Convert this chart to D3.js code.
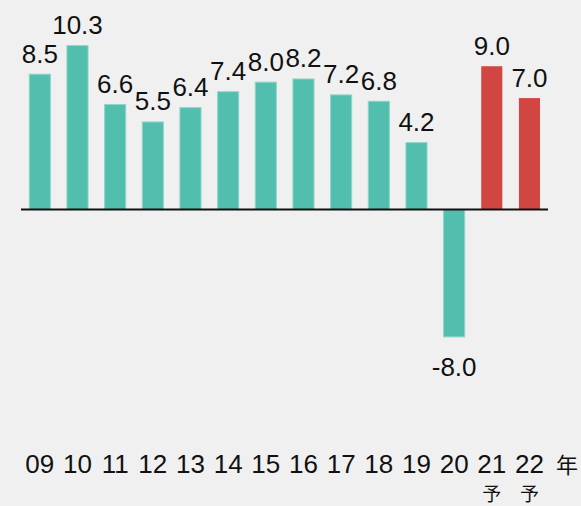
<!DOCTYPE html>
<html><head><meta charset="utf-8">
<script src="https://cdn.jsdelivr.net/npm/d3@7"></script>
<style>
html,body{margin:0;padding:0;background:#f0f0f0;}
svg{display:block;}
text{font-family:"Liberation Sans",Arial,sans-serif;fill:#111;}
</style></head>
<body>
<script>
const categories = ["09","10","11","12","13","14","15","16","17","18","19","20","21","22"];
const forecastMark = ["","","","","","","","","","","","","予","予"];
const values = [8.5,10.3,6.6,5.5,6.4,7.4,8.0,8.2,7.2,6.8,4.2,-8.0,9.0,7.0];
const isForecast = [false,false,false,false,false,false,false,false,false,false,false,false,true,true];
const unitLabel = "年";

const W = 581, H = 506;
const svg = d3.select("body").append("svg").attr("width", W).attr("height", H);

const x = d3.scaleBand().domain(categories).range([21, 548.3]).paddingInner(0.44).paddingOuter(0.22);
const y = d3.scaleLinear().domain([-10, 12]).range([368.7, 18.5]);

const teal = "#52bfae", red = "#d14542";

svg.append("g").selectAll("rect").data(values).join("rect")
  .attr("x", (d,i) => x(categories[i]))
  .attr("width", x.bandwidth())
  .attr("y", d => y(Math.max(0, d)))
  .attr("height", d => Math.abs(y(d) - y(0)))
  .attr("fill", (d,i) => isForecast[i] ? red : teal)
  .attr("stroke", (d,i) => isForecast[i] ? "none" : "#8dd5c9")
  .attr("stroke-width", 1);

svg.append("line")
  .attr("x1", 21).attr("x2", 548)
  .attr("y1", y(0)).attr("y2", y(0))
  .attr("stroke", "#111").attr("stroke-width", 2);

svg.append("g").selectAll("text").data(values).join("text")
  .attr("x", (d,i) => x(categories[i]) + x.bandwidth()/2)
  .attr("y", d => d >= 0 ? y(d) - 11.5 : y(d) + 39.5)
  .attr("text-anchor", "middle")
  .attr("font-size", 26)
  .text(d => d.toFixed(1));

const ax = svg.append("g");
ax.selectAll("text.cat").data(categories).join("text").attr("class","cat")
  .attr("x", d => x(d) + x.bandwidth()/2)
  .attr("y", 472.5)
  .attr("text-anchor", "middle")
  .attr("font-size", 26)
  .text(d => d);
ax.selectAll("text.fc").data(categories.filter((d,i) => forecastMark[i] !== "")).join("text").attr("class","fc")
  .attr("x", d => x(d) + x.bandwidth()/2)
  .attr("y", 500.5)
  .attr("text-anchor", "middle")
  .attr("font-size", 19)
  .style("font-family", "'Noto Sans CJK JP',sans-serif")
  .text(d => forecastMark[categories.indexOf(d)]);
ax.append("text")
  .attr("x", x(categories[categories.length-1]) + x.step() + x.bandwidth()/2)
  .attr("y", 472.5)
  .attr("text-anchor", "middle")
  .attr("font-size", 22)
  .style("font-family", "'Noto Sans CJK JP',sans-serif")
  .text(unitLabel);
</script>
</body></html>
